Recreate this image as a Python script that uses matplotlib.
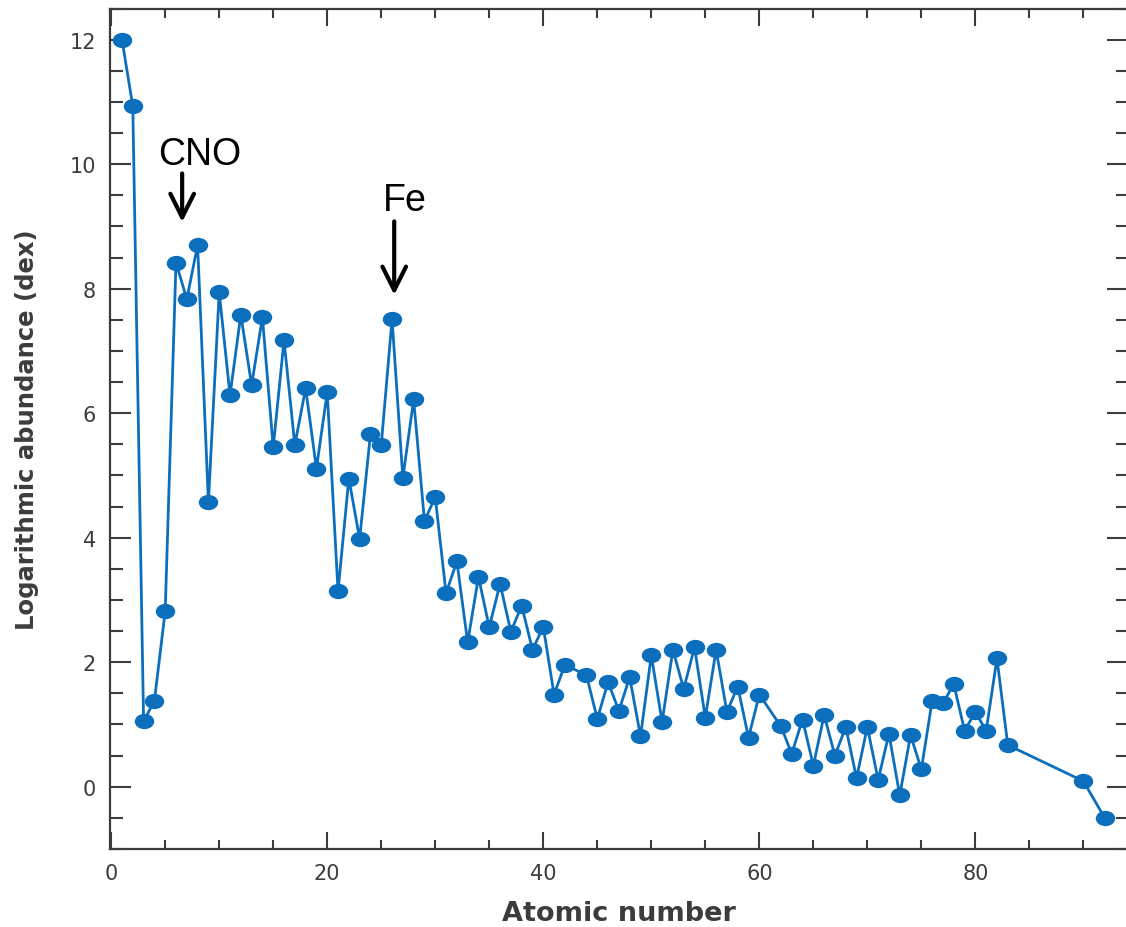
import matplotlib
matplotlib.use("Agg")
import matplotlib.pyplot as plt
from matplotlib.path import Path
from matplotlib.ticker import MultipleLocator

# solar abundances (Tc, Pm, 84-89, 91 missing)
atomic_number = list(range(1, 43)) + list(range(44, 61)) + list(range(62, 84)) + [90, 92]
abundance = [12.00, 10.93, 1.05, 1.38, 2.82, 8.42, 7.83, 8.70, 4.57, 7.94,
             6.29, 7.58, 6.45, 7.54, 5.45, 7.17, 5.49, 6.40, 5.11, 6.34,
             3.14, 4.95, 3.98, 5.66, 5.49, 7.51, 4.96, 6.22, 4.27, 4.65,
             3.11, 3.62, 2.32, 3.37, 2.56, 3.26, 2.49, 2.91, 2.20, 2.57,
             1.48, 1.96,
             1.79, 1.09, 1.68, 1.22, 1.76, 0.81, 2.11, 1.04, 2.20, 1.57,
             2.24, 1.11, 2.20, 1.20, 1.61, 0.79, 1.48,
             0.97, 0.53, 1.08, 0.34, 1.15, 0.50, 0.96, 0.14, 0.96, 0.11,
             0.85, -0.14, 0.83, 0.28, 1.38, 1.34, 1.65, 0.90, 1.20, 0.90,
             2.06, 0.67,
             0.09, -0.51]

x_ticks = [0, 20, 40, 60, 80]
y_ticks = [0, 2, 4, 6, 8, 10, 12]

blue = "#0b6fbd"
grey = "#3c3c3c"

# flattened ellipse marker like the original
circ = Path.unit_circle()
ellipse = Path(circ.vertices * [1.3, 1.0], circ.codes)

fig = plt.figure(figsize=(11.26, 9.28), dpi=100)
ax = fig.add_axes([110 / 1126, 1 - 850 / 928, 1018 / 1126, 840.5 / 928])

ax.plot(atomic_number, abundance, color=blue, lw=2, marker=ellipse,
        markersize=13, markerfacecolor=blue, markeredgecolor=blue, zorder=3)

ax.set_xlim(-0.11, 94.13)
ax.set_ylim(-1, 12.5)
ax.set_xticks(x_ticks)
ax.set_yticks(y_ticks)
ax.xaxis.set_minor_locator(MultipleLocator(5))
ax.yaxis.set_minor_locator(MultipleLocator(0.5))

for s in ax.spines.values():
    s.set_color(grey)
    s.set_linewidth(1.6)
ax.spines["right"].set_visible(False)

ax.tick_params(which="both", direction="in", top=True, right=True,
               color=grey, width=1.5, labelcolor=grey, labelsize=15, pad=10)
ax.tick_params(axis="x", which="major", length=12)
ax.tick_params(axis="x", which="minor", length=6.5)
ax.tick_params(axis="y", which="major", length=15)
ax.tick_params(axis="y", which="minor", length=9)

ax.set_xlabel("Atomic number", fontsize=19.5, fontweight="bold", color=grey, labelpad=12)
ax.set_ylabel("Logarithmic abundance (dex)", fontsize=17.5, fontweight="bold",
              color=grey, labelpad=22)

# annotations
arrow = dict(arrowstyle="->,head_length=1.7,head_width=0.85",
             color="black", lw=3, shrinkA=0, shrinkB=0)
ax.text(8.15, 10.16, "CNO", fontsize=27, family="Liberation Sans",
        ha="center", va="center", color="black")
ax.annotate("", xy=(6.57, 9.07), xytext=(6.57, 9.85), arrowprops=arrow)
ax.text(27.2, 9.43, "Fe", fontsize=27, family="Liberation Sans",
        ha="center", va="center", color="black")
ax.annotate("", xy=(26.2, 7.9), xytext=(26.2, 9.08), arrowprops=arrow)

fig.savefig("out.png", dpi=100)
